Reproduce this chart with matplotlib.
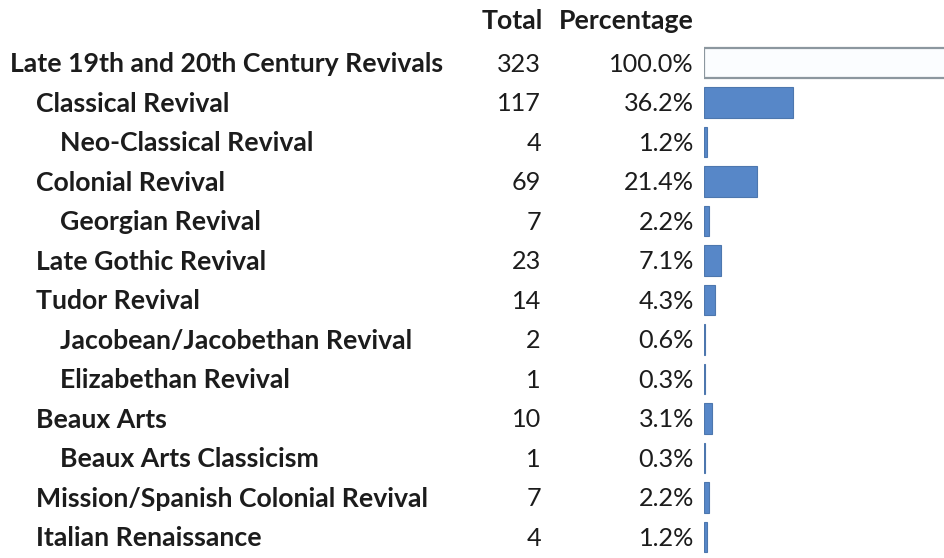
import matplotlib
matplotlib.use("Agg")
import matplotlib.pyplot as plt
from matplotlib.transforms import blended_transform_factory

categories = [
    "Late 19th and 20th Century Revivals",
    "Classical Revival",
    "Neo-Classical Revival",
    "Colonial Revival",
    "Georgian Revival",
    "Late Gothic Revival",
    "Tudor Revival",
    "Jacobean/Jacobethan Revival",
    "Elizabethan Revival",
    "Beaux Arts",
    "Beaux Arts Classicism",
    "Mission/Spanish Colonial Revival",
    "Italian Renaissance",
]
levels = [0, 1, 2, 1, 2, 1, 1, 2, 2, 1, 2, 1, 1]
totals = [323, 117, 4, 69, 7, 23, 14, 2, 1, 10, 1, 7, 4]
percentages = [100.0, 36.2, 1.2, 21.4, 2.2, 7.1, 4.3, 0.6, 0.3, 3.1, 0.3, 2.2, 1.2]
headers = ["Total", "Percentage"]

W, H = 945, 558
fig = plt.figure(figsize=(W / 100, H / 100), dpi=100)
fig.patch.set_facecolor("white")

row0, step = 63, 39.5
ytop = (0 - row0) / step
ybot = (H - row0) / step

ax = fig.add_axes([704 / W, 0, (W - 704) / W, 1])
ax.set_xlim(0, (W - 704) / 246 * 100)
ax.set_ylim(ybot, ytop)
ax.axis("off")

for i, p in enumerate(percentages):
    if i == 0:
        ax.barh(i, p, height=0.76, left=0, facecolor="#FBFDFF",
                edgecolor="#8C979F", linewidth=1.6)
    else:
        ax.barh(i, p, height=0.78, left=0, facecolor="#5787C8",
                edgecolor="#4D77AE", linewidth=0.8)

tr = blended_transform_factory(fig.transFigure, ax.transData)
fam = ["Lato", "DejaVu Sans"]
txtc = "#1c1c1c"
indent = {0: 10, 1: 36, 2: 60}
fs_lab = 19.2
fs_num = 18.2

for i, (c, lv, t, p) in enumerate(zip(categories, levels, totals, percentages)):
    ax.text(indent[lv] / W, i + 0.03, c, transform=tr, ha="left", va="center",
            fontsize=fs_lab, fontweight="bold", family=fam, color=txtc, clip_on=False)
    ax.text(541 / W, i + 0.03, f"{t}", transform=tr, ha="right", va="center",
            fontsize=fs_num, family=fam, color=txtc, clip_on=False)
    ax.text(694 / W, i + 0.03, f"{p:.1f}%", transform=tr, ha="right", va="center",
            fontsize=fs_num, family=fam, color=txtc, clip_on=False)

hy = (21 - row0) / step
ax.text(543 / W, hy, headers[0], transform=tr, ha="right", va="center",
        fontsize=fs_lab, fontweight="bold", family=fam, color=txtc, clip_on=False)
ax.text(694 / W, hy, headers[1], transform=tr, ha="right", va="center",
        fontsize=fs_lab, fontweight="bold", family=fam, color=txtc, clip_on=False)

fig.savefig("out.png", dpi=100, facecolor="white")
